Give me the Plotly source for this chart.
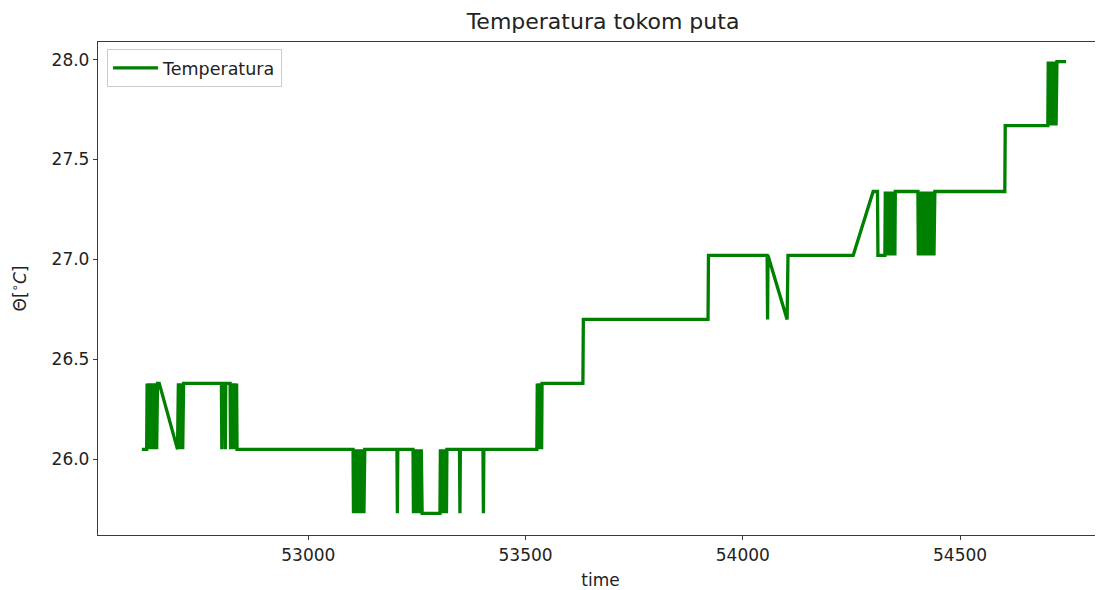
import plotly.graph_objects as go

# Time (s) and temperature (°C) samples
time_s = [
    52617, 52628, 52629, 52631, 52633, 52635, 52637, 52639, 52641, 52643, 52645, 52647, 52649, 52651, 52653, 52657,
    52699, 52701, 52703, 52705, 52707, 52709, 52711, 52713,
    52800, 52801, 52802, 52808, 52809, 52810,
    52820, 52821, 52823, 52825, 52827, 52829, 52831, 52833, 52835, 52836,
    53103, 53104, 53106, 53108, 53110, 53112, 53114, 53116, 53118, 53120, 53122, 53124, 53126, 53128, 53130,
    53204, 53205, 53206,
    53241, 53242, 53244, 53246, 53248, 53250, 53252, 53254, 53256, 53258, 53260, 53262,
    53303, 53304, 53306, 53308, 53310, 53312, 53314, 53316, 53318, 53319,
    53348, 53349, 53350,
    53402, 53403, 53404,
    53526, 53527, 53529, 53531, 53533, 53535, 53537, 53538,
    53632, 53633,
    53920, 53921,
    54056, 54057, 54058, 54102, 54104,
    54254, 54300, 54310, 54311,
    54327, 54328, 54330, 54332, 54334, 54336, 54338, 54340, 54342, 54344, 54346, 54348, 54350, 54351,
    54403, 54404, 54406, 54408, 54410, 54412, 54414, 54416, 54418, 54420, 54422, 54424, 54426, 54428, 54430,
    54432, 54434, 54436, 54438, 54440, 54442,
    54603, 54604,
    54702, 54703, 54705, 54707, 54709, 54711, 54713, 54715, 54717, 54719, 54721, 54723,
    54744,
]
temperature_c = [
    26.05, 26.05, 26.38, 26.05, 26.38, 26.05, 26.38, 26.05, 26.38, 26.05, 26.38, 26.05, 26.38, 26.05, 26.38, 26.38,
    26.05, 26.38, 26.05, 26.38, 26.05, 26.38, 26.05, 26.38,
    26.38, 26.05, 26.38, 26.38, 26.05, 26.38,
    26.38, 26.05, 26.38, 26.05, 26.38, 26.05, 26.38, 26.05, 26.38, 26.05,
    26.05, 25.73, 26.05, 25.73, 26.05, 25.73, 26.05, 25.73, 26.05, 25.73, 26.05, 25.73, 26.05, 25.73, 26.05,
    26.05, 25.73, 26.05,
    26.05, 25.73, 26.05, 25.73, 26.05, 25.73, 26.05, 25.73, 26.05, 25.73, 26.05, 25.73,
    25.73, 26.05, 25.73, 26.05, 25.73, 26.05, 25.73, 26.05, 25.73, 26.05,
    26.05, 25.73, 26.05,
    26.05, 25.73, 26.05,
    26.05, 26.38, 26.05, 26.38, 26.05, 26.38, 26.05, 26.38,
    26.38, 26.70,
    26.70, 27.02,
    27.02, 26.70, 27.02, 26.70, 27.02,
    27.02, 27.34, 27.34, 27.02,
    27.02, 27.34, 27.02, 27.34, 27.02, 27.34, 27.02, 27.34, 27.02, 27.34, 27.02, 27.34, 27.02, 27.34,
    27.34, 27.02, 27.34, 27.02, 27.34, 27.02, 27.34, 27.02, 27.34, 27.02, 27.34, 27.02, 27.34, 27.02, 27.34,
    27.02, 27.34, 27.02, 27.34, 27.02, 27.34,
    27.34, 27.67,
    27.67, 27.99, 27.67, 27.99, 27.67, 27.99, 27.67, 27.99, 27.67, 27.99, 27.67, 27.99,
    27.99,
]

x_ticks = [53000, 53500, 54000, 54500]
y_ticks = [26.0, 26.5, 27.0, 27.5, 28.0]

TXT = "#222222"
AX = "#3a3a3a"

# The page body adds an 8px offset; the figure is sized to fit the 1103x590 window.
W, H = 1095, 582

fig = go.Figure()
fig.add_trace(go.Scatter(
    x=time_s, y=temperature_c, mode="lines", name="Temperatura",
    line=dict(color="#008000", width=3.3),
))

fig.update_layout(
    template="none",
    width=W, height=H,
    margin=dict(l=90, r=0, t=34, b=55, pad=0, autoexpand=False),
    paper_bgcolor="white", plot_bgcolor="white",
    font=dict(family="DejaVu Sans", size=17, color=TXT),
    title=dict(text="Temperatura tokom puta", x=0.5025, xref="paper", xanchor="center",
               y=1 - 13 / H, yref="container", yanchor="middle",
               font=dict(size=22, color=TXT)),
    showlegend=True,
    legend=dict(x=0.009, y=0.986, xanchor="left", yanchor="top",
                bordercolor="#cccccc", borderwidth=1, bgcolor="rgba(255,255,255,0.8)",
                itemwidth=45,
                font=dict(size=17.5, color=TXT)),
)
fig.update_xaxes(
    automargin=False,
    range=[52516, 54829], tickvals=x_ticks, tickformat="d",
    showgrid=False, zeroline=False, showline=True, mirror=True,
    linecolor=AX, linewidth=1.3, ticks="outside", ticklen=4, tickcolor=AX,
    tickfont=dict(size=17, color=TXT),
    title=dict(text="time", font=dict(size=17, color=TXT), standoff=11),
)
fig.update_yaxes(
    automargin=False,
    range=[25.6215, 28.088], tickvals=y_ticks, tickformat=".1f",
    showgrid=False, zeroline=False, showline=True, mirror=False,
    linecolor=AX, linewidth=1.3, ticks="outside", ticklen=4, tickcolor=AX,
    tickfont=dict(size=17, color=TXT),
    title=dict(text="Θ[<sup>∘</sup><i>C</i>]", font=dict(size=17, color=TXT), standoff=20),
)

fig.write_html("out.html")
